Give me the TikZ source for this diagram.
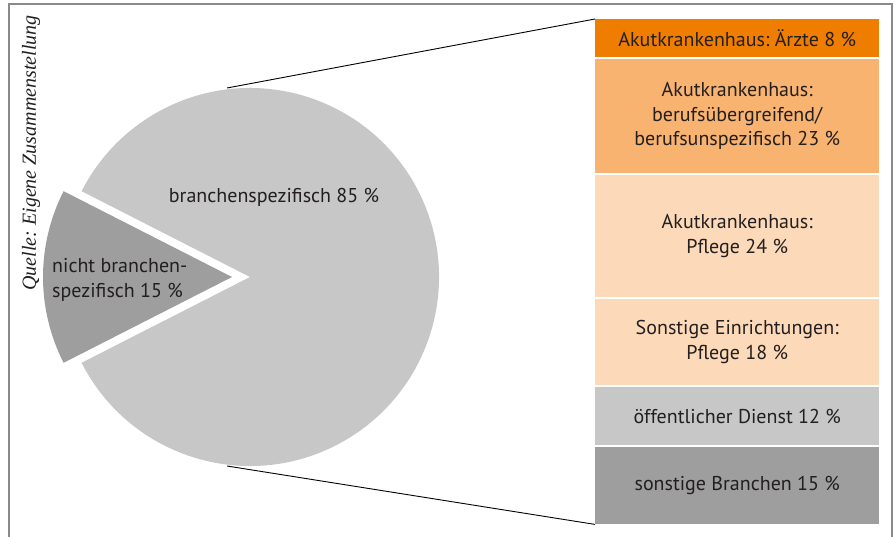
\documentclass[tikz,border=0pt]{standalone}
\usepackage{fontspec}
\setmainfont{PT Sans}
\newfontfamily\quellefont{Liberation Serif}
\definecolor{textdark}{HTML}{231F20}
\definecolor{framegray}{HTML}{8A8A8A}
\definecolor{pielight}{HTML}{C6C7C6}
\definecolor{piedark}{HTML}{9D9E9D}
\definecolor{orangedeep}{HTML}{EE7D00}
\definecolor{orangemid}{HTML}{F7B36F}
\definecolor{orangepale}{HTML}{FCD9B8}
\frenchspacing

\begin{document}
\begin{tikzpicture}[x=1pt, y=-1pt, font=\fontsize{20}{24.5}\selectfont, text=textdark,
  seg/.style={anchor=north west, minimum width=284pt, inner sep=0pt, align=center}]
  \useasboundingbox (0,0) rectangle (896,537);
  \draw[framegray, line width=1.5pt] (9,537) -- (9,4) -- (892,4) -- (892,537);

  % pie, small slice pulled out to the left
  \coordinate (c) at (250,277);
  \coordinate (cs) at (232,277);
  \fill[pielight] (c) -- ++(153:189) arc[start angle=153, end angle=-153, radius=189] -- cycle;
  \fill[piedark] (cs) -- ++(153:189) arc[start angle=153, end angle=207, radius=189] -- cycle;
  \coordinate (ptop) at (227,88);
  \coordinate (pbot) at (227,466);
  \node (big) at (274,197) {branchenspezifisch 85 \%};
  \node[anchor=west, align=left, inner sep=0pt] (small) at (52,280) {nicht branchen-\\spezifisch 15 \%};

  \node[rotate=90, font=\quellefont\itshape\fontsize{20}{24}\selectfont] (quelle) at (31,153)
    {Quelle: Eigene Zusammenstellung};

  % breakdown of the 85 %
  \foreach \n/\yt/\h/\col/\txt in {
    1/19/38/orangedeep/{Akutkrankenhaus: Ärzte 8 \%},
    2/59/114/orangemid/{Akutkrankenhaus:\\berufsübergreifend/\\berufsunspezifisch 23 \%},
    3/175/122/orangepale/{Akutkrankenhaus:\\Pflege 24 \%},
    4/299/86/orangepale/{Sonstige Einrichtungen:\\Pflege 18 \%},
    5/387/58/pielight/{öffentlicher Dienst 12 \%},
    6/447/77/piedark/{sonstige Branchen 15 \%}} {
    \node[seg, fill=\col, minimum height=\h] (b\n) at (595,\yt) {\txt};
  }
  \draw[black, line width=0.9pt] (ptop) -- (b1.north west);
  \draw[black, line width=0.9pt] (pbot) -- (b6.south west);
\end{tikzpicture}
\end{document}
